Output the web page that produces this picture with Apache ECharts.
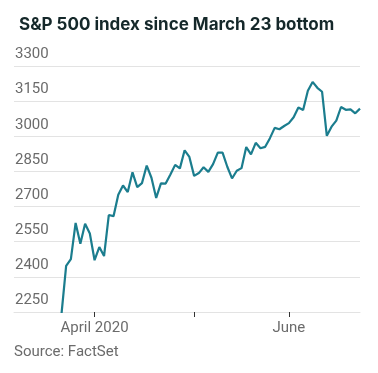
<!DOCTYPE html>
<html><head><meta charset="utf-8">
<script src="https://cdn.jsdelivr.net/npm/echarts@6/dist/echarts.min.js"></script>
<style>html,body{margin:0;padding:0;background:#fff}#c{width:378px;height:373px}</style>
</head><body><div id="c"></div>
<script>
const dates = ["2020-03-23","2020-03-24","2020-03-25","2020-03-26","2020-03-27","2020-03-30","2020-03-31",
"2020-04-01","2020-04-02","2020-04-03","2020-04-06","2020-04-07","2020-04-08","2020-04-09","2020-04-13","2020-04-14","2020-04-15","2020-04-16","2020-04-17","2020-04-20","2020-04-21","2020-04-22","2020-04-23","2020-04-24","2020-04-27","2020-04-28","2020-04-29","2020-04-30",
"2020-05-01","2020-05-04","2020-05-05","2020-05-06","2020-05-07","2020-05-08","2020-05-11","2020-05-12","2020-05-13","2020-05-14","2020-05-15","2020-05-18","2020-05-19","2020-05-20","2020-05-21","2020-05-22","2020-05-26","2020-05-27","2020-05-28","2020-05-29",
"2020-06-01","2020-06-02","2020-06-03","2020-06-04","2020-06-05","2020-06-08","2020-06-09","2020-06-10","2020-06-11","2020-06-12","2020-06-15","2020-06-16","2020-06-17","2020-06-18","2020-06-19","2020-06-22"];
const closes = [2237,2447,2476,2630,2541,2627,2585,
2471,2527,2489,2664,2659,2750,2790,2762,2846,2783,2800,2875,2823,2737,2799,2798,2837,2878,2863,2940,2912,
2831,2843,2868,2848,2881,2930,2930,2870,2820,2853,2864,2954,2923,2972,2949,2955,2992,3036,3030,3044,
3056,3081,3123,3112,3194,3232,3207,3190,3002,3041,3067,3125,3113,3115,3098,3118];
const yTicks = [2250,2400,2550,2700,2850,3000,3150,3300];
const monthTickLabels = {"2020-04-01":"April 2020","2020-05-01":"","2020-06-01":"June"};

const monthIdx = dates.map((d,i)=>monthTickLabels[d]!==undefined ? i : -1).filter(i=>i>=0);
const labelIdx = monthIdx.filter(i=>monthTickLabels[dates[i]]!=="");
const chart = echarts.init(document.getElementById('c'));
chart.setOption({
  animation:false,
  title:{text:'S&P 500 index since March 23 bottom',left:14,top:11,
    textStyle:{fontFamily:'Inter',fontWeight:'bold',fontSize:17,color:'#15282a'}},
  graphic:[{type:'text',left:14,top:345,style:{text:'Source: FactSet',fontFamily:'Roboto',fontSize:15,fill:'#6b6b6b'}}],
  grid:{left:14,right:18,top:66,bottom:61},
  xAxis:{type:'value',min:-10,max:dates.length-1,
    axisLine:{show:true,lineStyle:{color:'#e3e3e3',width:1}},
    axisTick:{show:true,customValues:monthIdx,length:5,lineStyle:{color:'#333',width:1}},
    axisLabel:{customValues:labelIdx,formatter:v=>monthTickLabels[dates[v]]||'',
      fontFamily:'Roboto',fontSize:15,color:'#6b6b6b',margin:9},
    splitLine:{show:false}},
  yAxis:{type:'value',min:yTicks[0],max:yTicks[yTicks.length-1],interval:150,
    axisLine:{show:false},axisTick:{show:false},
    axisLabel:{inside:true,align:'left',verticalAlign:'bottom',margin:1,padding:[0,0,4,0],
      formatter:v=>String(v),fontFamily:'Roboto',fontSize:15,color:'#6b6b6b'},
    splitLine:{lineStyle:{color:'#e3e3e3',width:1}}},
  series:[{type:'line',data:closes.map((v,i)=>[i,v]),symbol:'none',
    lineStyle:{color:'#1b7d8e',width:2.2},clip:true}]
});
</script></body></html>
